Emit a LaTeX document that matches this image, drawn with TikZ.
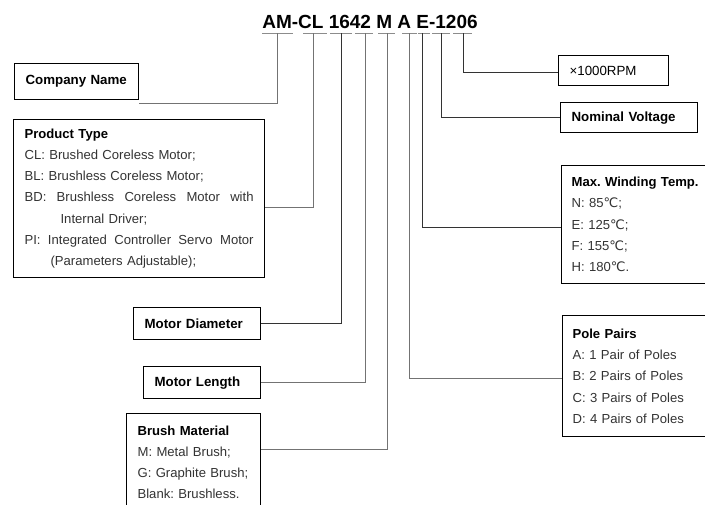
\documentclass[tikz,border=0pt]{standalone}
\usepackage{fontspec}
\setmainfont{Liberation Sans}
\newfontfamily\degfont{DejaVu Sans}
\newcommand{\degc}{{\degfont ℃}}
\usepackage{tikz}

\tikzset{
	box/.style={draw, line width=1.2pt, anchor=north west, inner xsep=11pt, text=black!80, font=\frenchspacing\fontsize{13.1}{21.3}\selectfont},
	namebox/.style={box, text=black, font=\bfseries\fontsize{13.3}{16}\selectfont, align=left},
	listbox/.style={box, align=left},
	tick/.style={draw=black!45, line width=0.9pt},
	lead/.style={draw=black!55, line width=0.9pt},
	leaddark/.style={draw=black!80, line width=0.9pt}
}
\newcommand{\boxhead}[1]{\mbox{\textcolor{black}{\bfseries #1}}}

\begin{document}
\begin{tikzpicture}[x=1pt, y=-1pt]
	\useasboundingbox (0,0) rectangle (705,504);
	\clip (0,0) rectangle (705,504);
	\fill[white] (0,0) rectangle (705,504);
	\node[font=\bfseries\fontsize{19}{19}\selectfont] (code) at (370,22) {AM-CL 1642 M A E-1206};
	\draw[tick] (262,33) -- (293,33);
	\draw[tick] (303,33) -- (327,33);
	\draw[tick] (330,33) -- (352,33);
	\draw[tick] (355,33) -- (373,33);
	\draw[tick] (378,33) -- (395,33);
	\draw[tick] (402,33) -- (417,33);
	\draw[tick] (418,33) -- (430,33);
	\draw[tick] (432,33) -- (450,33);
	\draw[tick] (453,33) -- (472,33);
	\coordinate (c-am) at (277,33);
	\coordinate (c-cl) at (313,33);
	\coordinate (c-dia) at (341,33);
	\coordinate (c-len) at (365,33);
	\coordinate (c-brush) at (387,33);
	\coordinate (c-pole) at (409,33);
	\coordinate (c-temp) at (422,33);
	\coordinate (c-volt) at (441,33);
	\coordinate (c-rpm) at (463,33);

	\node[namebox, text width=102pt, minimum height=36pt] (company) at (14,63) {\mbox{Company Name}};
	\node[listbox, text width=229pt, minimum height=158pt] (product) at (13,119) {\boxhead{Product Type}\\
		\mbox{CL: Brushed Coreless Motor;}\\
		\mbox{BL: Brushless Coreless Motor;}\\
		\makebox[229pt]{BD:\hfill Brushless\hfill Coreless\hfill Motor\hfill with}\\
		\hspace*{36pt}Internal Driver;\\
		\makebox[229pt]{PI:\hfill Integrated\hfill Controller\hfill Servo\hfill Motor}\\
		\hspace*{26pt}\mbox{(Parameters Adjustable);}};
	\node[namebox, text width=105pt, minimum height=32pt] (diameter) at (133,307) {\mbox{Motor Diameter}};
	\node[namebox, text width=95pt, minimum height=32pt] (length) at (143,366) {\mbox{Motor Length}};
	\node[listbox, text width=112pt, inner ysep=12pt] (brush) at (126,413) {\boxhead{Brush Material}\\
		\mbox{M: Metal Brush;}\\
		\mbox{G: Graphite Brush;}\\
		\mbox{Blank: Brushless.}};
	\node[namebox, text width=88pt, minimum height=30pt] (rpm) at (558,55) {\mdseries\texttimes1000RPM};
	\node[namebox, text width=115pt, minimum height=30pt] (volt) at (560,102) {\mbox{Nominal Voltage}};
	\node[listbox, text width=150pt, minimum height=118pt, inner xsep=10pt] (temp) at (561,165) {\boxhead{Max. Winding Temp.}\\
		N: 85\degc;\\
		E: 125\degc;\\
		F: 155\degc;\\
		H: 180\degc.};
	\node[listbox, text width=150pt, minimum height=121pt, inner xsep=10pt] (pole) at (562,315) {\boxhead{Pole Pairs}\\
		\mbox{A: 1 Pair of Poles}\\
		\mbox{B: 2 Pairs of Poles}\\
		\mbox{C: 3 Pairs of Poles}\\
		\mbox{D: 4 Pairs of Poles}};

	\draw[lead] (c-am) |- ([yshift=-3pt]company.south east);
	\draw[lead] (c-cl) |- ([yshift=-9pt]product.east);
	\draw[leaddark] (c-dia) |- (diameter.east);
	\draw[lead] (c-len) |- (length.east);
	\draw[lead] (c-brush) |- ([yshift=-36pt]brush.north east);
	\draw[lead] (c-pole) |- ([yshift=-2pt]pole.west);
	\draw[leaddark] (c-temp) |- ([yshift=-3pt]temp.west);
	\draw[leaddark] (c-volt) |- (volt.west);
	\draw[leaddark] (c-rpm) |- ([yshift=-2pt]rpm.west);
\end{tikzpicture}
\end{document}
